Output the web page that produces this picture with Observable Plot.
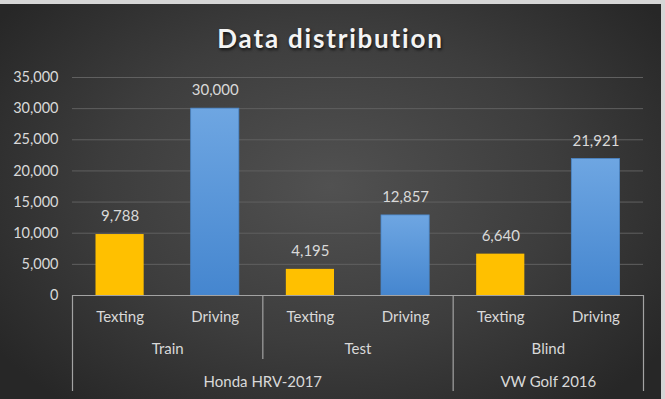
<!DOCTYPE html>
<html><head><meta charset="utf-8">
<script src="https://cdn.jsdelivr.net/npm/d3@7"></script>
<script src="https://cdn.jsdelivr.net/npm/@observablehq/plot@0.6"></script>
<style>
html,body{margin:0;padding:0;background:#d6d6d6;width:665px;height:399px;overflow:hidden;}
#chart{position:absolute;left:0;top:4px;width:661px;height:395px;overflow:hidden;
 background:radial-gradient(ellipse 62% 72% at 50% 46%, #515151 0%, #3d3d3d 55%, #272727 100%);}
#title{box-sizing:border-box;height:56px;padding-top:21px;line-height:26px;text-align:center;
 font-family:Lato,sans-serif;font-weight:bold;font-size:26px;letter-spacing:1.8px;color:#f4f4f4;
 text-shadow:1px 2px 3px rgba(0,0,0,0.7);}
svg{display:block;background:transparent;}
</style></head>
<body><div id="chart"><div id="title">Data distribution</div></div>
<script>
const vehicles = ["Honda HRV-2017","Honda HRV-2017","Honda HRV-2017","Honda HRV-2017","VW Golf 2016","VW Golf 2016"];
const splits = ["Train","Train","Test","Test","Blind","Blind"];
const classes = ["Texting","Driving","Texting","Driving","Texting","Driving"];
const counts = [9788, 30000, 4195, 12857, 6640, 21921];
const yTicks = [0, 5000, 10000, 15000, 20000, 25000, 30000, 35000];

const rows = counts.map((v, i) => ({i, vehicle: vehicles[i], split: splits[i], cls: classes[i], value: v}));
const groupOf = key => d3.groups(rows, d => d[key]).map(([name, rs]) => ({
  name, x: d3.mean(rs, r => r.i) + 0.5, start: d3.min(rs, r => r.i), end: d3.max(rs, r => r.i) + 1
}));
const splitGroups = groupOf("split");
const vehicleGroups = groupOf("vehicle");
const vehicleBounds = Array.from(new Set(vehicleGroups.flatMap(g => [g.start, g.end])));
const splitBounds = Array.from(new Set(splitGroups.flatMap(g => [g.start, g.end]))).filter(b => !vehicleBounds.includes(b));

const fmt = d3.format(",");
const labelColor = "#d9d9d9";
const font = "Lato, sans-serif";

const defs = () => {
  const svg = d3.create("svg:defs");
  const g = svg.append("linearGradient").attr("id", "blueGrad").attr("x1", 0).attr("x2", 0).attr("y1", 0).attr("y2", 1);
  g.append("stop").attr("offset", "0%").attr("stop-color", "#6ea6e2");
  g.append("stop").attr("offset", "100%").attr("stop-color", "#4586cf");
  return svg.node();
};

const chart = Plot.plot({
  width: 661,
  height: 339,
  marginTop: 17,
  marginBottom: 104,
  marginLeft: 72,
  marginRight: 18,
  style: {fontFamily: font, background: "transparent", overflow: "visible"},
  x: {domain: [0, 6], axis: null},
  y: {domain: [0, 35000], axis: null},
  marks: [
    defs,
    Plot.ruleY(yTicks.filter(t => t > 0), {stroke: "#606060", strokeWidth: 1}),
    Plot.rectY(rows.filter(d => d.cls === "Texting"), {x1: d => d.i, x2: d => d.i + 1, y: "value", fill: "#ffc000", insetLeft: 23.5, insetRight: 23.5}),
    Plot.rectY(rows.filter(d => d.cls === "Driving"), {x1: d => d.i, x2: d => d.i + 1, y: "value", fill: "url(#blueGrad)", stroke: "#4a86c8", strokeWidth: 0.8, insetLeft: 23.5, insetRight: 23.5}),
    Plot.ruleY([0], {stroke: "#a3a3a3", strokeWidth: 1.2}),
    Plot.ruleX(vehicleBounds, {x: d => d, y1: () => 0, y2: () => 0, insetBottom: -96, stroke: "#a3a3a3", strokeWidth: 1.2}),
    Plot.ruleX(splitBounds, {x: d => d, y1: () => 0, y2: () => 0, insetBottom: -64, stroke: "#a3a3a3", strokeWidth: 1.2}),
    Plot.text(yTicks, {x: () => 0, y: d => d, text: d => fmt(d), textAnchor: "end", dx: -14, fill: labelColor, fontSize: 14.5}),
    Plot.text(rows, {x: d => d.i + 0.5, y: "value", text: d => fmt(d.value), dy: -18, fill: labelColor, fontSize: 15}),
    Plot.text(rows, {x: d => d.i + 0.5, y: () => 0, text: "cls", dy: 22, fill: labelColor, fontSize: 15}),
    Plot.text(splitGroups, {x: "x", y: () => 0, text: "name", dy: 54, fill: labelColor, fontSize: 15}),
    Plot.text(vehicleGroups, {x: "x", y: () => 0, text: "name", dy: 87, fill: labelColor, fontSize: 15})
  ]
});
document.getElementById("chart").appendChild(chart);
</script>
</body></html>
